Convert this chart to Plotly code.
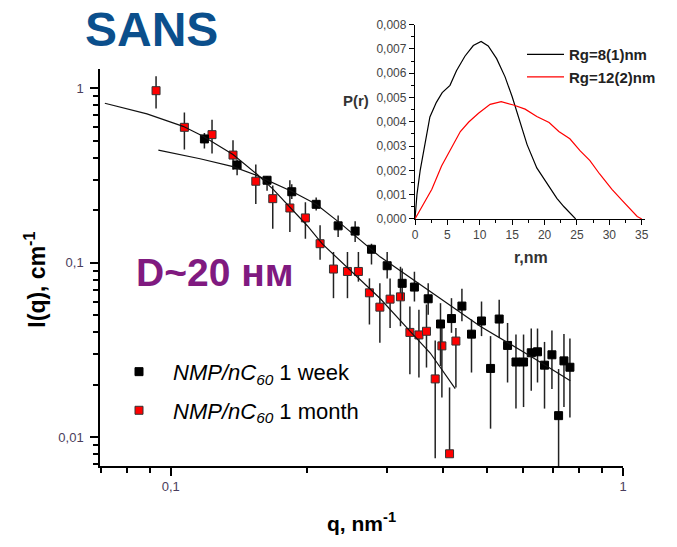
import plotly.graph_objects as go

# ---------------- data ----------------
week_q = [0.1187, 0.1402, 0.1633, 0.1852, 0.2097, 0.2345, 0.2557, 0.2779, 0.3010, 0.3249,
          0.3458, 0.3709, 0.3949, 0.4176, 0.4404, 0.4624, 0.4866, 0.5095, 0.5324, 0.5556,
          0.5799, 0.6027, 0.6268, 0.6471, 0.6706, 0.6964, 0.7204, 0.7404, 0.7632]
week_I = [0.513, 0.3638, 0.2974, 0.2555, 0.2164, 0.1629, 0.1520, 0.1196, 0.0962, 0.0763,
          0.0726, 0.0622, 0.0446, 0.0479, 0.0565, 0.0390, 0.0464, 0.0248, 0.0476, 0.0336,
          0.0270, 0.0270, 0.0305, 0.0309, 0.0259, 0.0297, 0.0133, 0.0274, 0.0252]
week_hi = [0.555, 0.3915, 0.3150, 0.2822, 0.2371, 0.1866, 0.1732, 0.1287, 0.1155, 0.0928,
           0.0889, 0.0763, 0.0587, 0.0627, 0.0709, 0.0473, 0.0600, 0.0380, 0.0614, 0.0452,
           0.0388, 0.0388, 0.0420, 0.0420, 0.0352, 0.0409, 0.0246, 0.0391, 0.0368]
week_lo = [0.452, 0.3177, 0.2589, 0.2319, 0.1993, 0.1405, 0.1316, 0.0978, 0.0814, 0.0614,
           0.0600, 0.0504, 0.0256, 0.0397, 0.0462, 0.0235, 0.0380, 0.0112, 0.0372, 0.0206,
           0.0146, 0.0149, 0.0185, 0.0206, 0.0146, 0.0189, 0.003, 0.0149, 0.0130]

month_q = [0.0928, 0.1072, 0.1234, 0.1373, 0.1542, 0.1681, 0.1834, 0.1985, 0.2139, 0.2290,
           0.2459, 0.2600, 0.2750, 0.2900, 0.3055, 0.3221, 0.3379, 0.3538, 0.3677, 0.3844,
           0.3977, 0.4135, 0.4271]
month_I = [0.970, 0.598, 0.543, 0.4146, 0.2935, 0.2332, 0.2062, 0.1809, 0.1287, 0.0921,
           0.0892, 0.0892, 0.0673, 0.0557, 0.0619, 0.0638, 0.0399, 0.0386, 0.0405, 0.0216,
           0.0334, 0.00804, 0.0356]
month_hi = [1.175, 0.728, 0.661, 0.5044, 0.3666, 0.2774, 0.2974, 0.2221, 0.1644, 0.1155,
            0.1155, 0.1155, 0.0814, 0.0763, 0.0814, 0.0949, 0.0562, 0.0538, 0.0577, 0.0359,
            0.0462, 0.0193, 0.0423]
month_lo = [0.767, 0.446, 0.423, 0.342, 0.2173, 0.1566, 0.1500, 0.1374, 0.1040, 0.0627,
            0.0627, 0.0780, 0.0443, 0.0348, 0.0423, 0.0433, 0.0230, 0.0220, 0.0251, 0.00757,
            0.0169, 0.00804, 0.0193]

fit_week_q = [0.0939, 0.1161, 0.1373, 0.1552, 0.1855, 0.2097, 0.2369, 0.2904, 0.3748, 0.4833, 0.6235, 0.7647]
fit_week_I = [0.4426, 0.3950, 0.3558, 0.3162, 0.2564, 0.2164, 0.1688, 0.1082, 0.0684, 0.0433, 0.0292, 0.0211]

fit_month_q = [0.0715, 0.0886, 0.1065, 0.1179, 0.1373, 0.1552, 0.1683, 0.1836, 0.2002, 0.2161,
               0.2493, 0.2904, 0.3384, 0.3748, 0.4256]
fit_month_I = [0.822, 0.7145, 0.6060, 0.5317, 0.4178, 0.3217, 0.2643, 0.2081, 0.1637, 0.1287,
               0.0912, 0.0624, 0.0405, 0.0304, 0.0190]

pr8_r = [0, 0.1, 0.3, 0.8, 1.5, 2.3, 3.3, 4.2, 5.4, 6.4, 7.7, 9.0, 10.2, 11.3, 12.6, 13.9,
         15.0, 16.0, 17.3, 18.8, 20.0, 21.0, 21.9, 23.0, 24.0, 24.8]
pr8_p = [0, 0.0004, 0.001, 0.002, 0.003, 0.0042, 0.0048, 0.0052, 0.0055, 0.0061, 0.0067,
         0.00714, 0.00731, 0.00712, 0.0066, 0.00585, 0.00503, 0.00415, 0.00306, 0.0021,
         0.0016, 0.0012, 0.00085, 0.0005, 0.0002, 0.0]
pr12_r = [0, 1.0, 2.6, 4.1, 5.7, 7.0, 8.3, 9.8, 11.6, 13.3, 15.2, 17.0, 18.8, 20.7, 22.2,
          23.9, 25.5, 27.0, 28.5, 30.4, 32.0, 33.5, 34.3, 35.0]
pr12_p = [0, 0.00048, 0.00122, 0.00218, 0.00299, 0.0036, 0.00399, 0.00435, 0.00472, 0.00483,
          0.00469, 0.00452, 0.00422, 0.00397, 0.0036, 0.0033, 0.0028, 0.0024, 0.00185,
          0.00122, 0.00075, 0.00032, 0.0001, 0.0]

x_major = [0.1, 1]
x_major_text = ["0,1", "1"]
y_major = [0.01, 0.1, 1]
y_major_text = ["0,01", "0,1", "1"]
x_minor = [0.07, 0.08, 0.09, 0.2, 0.3, 0.4, 0.5, 0.6, 0.7, 0.8, 0.9]
y_minor = [0.007, 0.008, 0.009, 0.02, 0.03, 0.04, 0.05, 0.06, 0.07, 0.08, 0.09,
           0.2, 0.3, 0.4, 0.5, 0.6, 0.7, 0.8, 0.9]
inset_x_ticks = [0, 5, 10, 15, 20, 25, 30, 35]
inset_y_ticks = [0.000, 0.001, 0.002, 0.003, 0.004, 0.005, 0.006, 0.007, 0.008]

# ---------------- layout helpers ----------------
W, H = 677, 547
ML, MR, MT, MB = 100, 20, 15, 81
PW = W - ML - MR
PH = H - MT - MB


def px(x):
    return (x - ML) / PW


def py(y):
    return (H - MB - y) / PH


FONT = "Arial, Liberation Sans, sans-serif"
TICKCOL = "#4a3d5c"

fig = go.Figure()

fig.add_trace(go.Scatter(
    x=month_q, y=month_I, mode="markers", legend="legend2",
    name="<i>NMP/nC</i><sub><i>60</i></sub> 1 month",
    marker=dict(symbol="square", size=8, color="#ff0000", line=dict(color="#333333", width=1)),
    error_y=dict(type="data", symmetric=False,
                 array=[h - v for h, v in zip(month_hi, month_I)],
                 arrayminus=[v - l for v, l in zip(month_I, month_lo)],
                 color="#222222", thickness=1.5, width=0),
))
fig.add_trace(go.Scatter(
    x=week_q, y=week_I, mode="markers", legend="legend",
    name="<i>NMP/nC</i><sub><i>60</i></sub> 1 week",
    marker=dict(symbol="square", size=8, color="#000000", line=dict(color="#000000", width=1)),
    error_y=dict(type="data", symmetric=False,
                 array=[h - v for h, v in zip(week_hi, week_I)],
                 arrayminus=[v - l for v, l in zip(week_I, week_lo)],
                 color="#222222", thickness=1.5, width=0),
))
fig.add_trace(go.Scatter(x=fit_week_q, y=fit_week_I, mode="lines", showlegend=False,
                         line=dict(color="#111111", width=1.2)))
fig.add_trace(go.Scatter(x=fit_month_q, y=fit_month_I, mode="lines", showlegend=False,
                         line=dict(color="#111111", width=1.2)))

# inset
fig.add_trace(go.Scatter(x=pr8_r, y=pr8_p, mode="lines", xaxis="x2", yaxis="y2", legend="legend3",
                         name="Rg=8(1)nm", line=dict(color="#000000", width=1.2)))
fig.add_trace(go.Scatter(x=pr12_r, y=pr12_p, mode="lines", xaxis="x2", yaxis="y2", legend="legend3",
                         name="Rg=12(2)nm", line=dict(color="#ff0000", width=1.2)))

axis_common = dict(showline=True, linecolor="#000000", linewidth=1.5, showgrid=False,
                   zeroline=False, ticks="outside", tickcolor="#000000", tickwidth=1.5)

fig.update_layout(
    width=W, height=H, autosize=False,
    margin=dict(l=ML, r=MR, t=MT, b=MB, pad=0),
    paper_bgcolor="white", plot_bgcolor="rgba(0,0,0,0)",
    font=dict(family=FONT),
    xaxis=dict(type="log", domain=[0, px(623)], range=[-1.1564, 0], anchor="y",
               tickvals=x_major, ticktext=x_major_text, ticklen=8,
               tickfont=dict(size=13, color=TICKCOL),
               minor=dict(tickvals=x_minor, ticks="outside", ticklen=5, tickwidth=1.5,
                          tickcolor="#000000", showgrid=False),
               **axis_common),
    yaxis=dict(type="log", domain=[0, py(65)], range=[-2.1648, 0.1136], anchor="x",
               tickvals=y_major, ticktext=y_major_text, ticklen=8,
               tickfont=dict(size=13, color=TICKCOL), ticklabelstandoff=4,
               minor=dict(tickvals=y_minor, ticks="outside", ticklen=5, tickwidth=1.5,
                          tickcolor="#000000", showgrid=False),
               **axis_common),
    xaxis2=dict(domain=[px(415), px(645)], range=[0, 35.5], anchor="y2",
                tickvals=inset_x_ticks, ticktext=[str(v) for v in inset_x_ticks], ticklen=5,
                tickfont=dict(size=12, color="#444444"),
                minor=dict(dtick=2.5, ticks="outside", ticklen=3, tickwidth=1,
                           tickcolor="#000000", showgrid=False),
                **{**axis_common, "linewidth": 1.3, "tickwidth": 1.2}),
    yaxis2=dict(domain=[py(216.7), py(20.7)], range=[0, 0.008], anchor="x2",
                tickvals=inset_y_ticks,
                ticktext=[("%.3f" % v).replace(".", ",") for v in inset_y_ticks], ticklen=5,
                tickfont=dict(size=12, color="#444444"),
                minor=dict(dtick=0.0005, ticks="outside", ticklen=3, tickwidth=1,
                           tickcolor="#000000", showgrid=False),
                **{**axis_common, "linewidth": 1.3, "tickwidth": 1.2}),
    legend=dict(x=px(105), y=py(371), xanchor="left", yanchor="middle",
                bgcolor="rgba(0,0,0,0)", font=dict(size=22, color="#000000", family=FONT),
                itemwidth=58),
    legend2=dict(x=px(105), y=py(410), xanchor="left", yanchor="middle",
                 bgcolor="rgba(0,0,0,0)", font=dict(size=22, color="#000000", family=FONT),
                 itemwidth=58),
    legend3=dict(x=px(522), y=py(62), xanchor="left", yanchor="middle",
                 bgcolor="rgba(0,0,0,0)", tracegroupgap=0,
                 font=dict(size=15, color="#222222", family=FONT, weight="bold"),
                 itemwidth=37),
    annotations=[
        dict(text="<b>SANS</b>", x=px(83), y=py(26), xref="paper", yref="paper",
             xanchor="left", yanchor="middle", showarrow=False,
             font=dict(size=48, color="#0b4f8c", family=FONT)),
        dict(text="<b>D~20 нм</b>", x=px(134), y=py(271), xref="paper", yref="paper",
             xanchor="left", yanchor="middle", showarrow=False,
             font=dict(size=39, color="#801a80", family=FONT)),
        dict(text="<b>I(q), cm<sup>-1</sup></b>", x=px(35), y=py(278), xref="paper", yref="paper",
             xanchor="center", yanchor="middle", showarrow=False, textangle=-90,
             font=dict(size=23, color="#000000", family=FONT)),
        dict(text="<b>q, nm<sup>-1</sup></b>", x=px(361), y=py(522), xref="paper", yref="paper",
             xanchor="center", yanchor="middle", showarrow=False,
             font=dict(size=21, color="#000000", family=FONT)),
        dict(text="<b>r,nm</b>", x=px(531), y=py(256), xref="paper", yref="paper",
             xanchor="center", yanchor="middle", showarrow=False,
             font=dict(size=16, color="#333333", family=FONT)),
        dict(text="<b>P(r)</b>", x=px(356), y=py(97), xref="paper", yref="paper",
             xanchor="center", yanchor="middle", showarrow=False,
             font=dict(size=15, color="#333333", family=FONT)),
    ],
)

fig.write_html("out.html")
